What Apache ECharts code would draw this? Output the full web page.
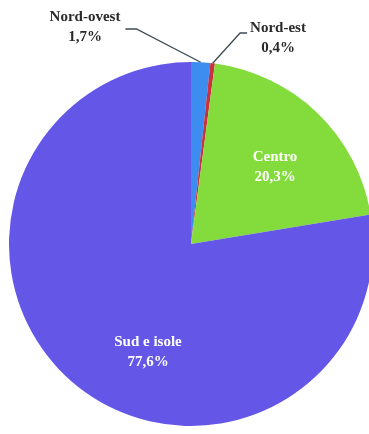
<!DOCTYPE html>
<html>
<head>
<meta charset="utf-8">
<script src="https://cdn.jsdelivr.net/npm/echarts@6/dist/echarts.min.js"></script>
<style>
  html, body { margin: 0; padding: 0; background: #ffffff; }
  #chart { width: 369px; height: 434px; }
</style>
</head>
<body>
<div id="chart"></div>
<script>
// Ripartizioni territoriali e quota percentuale
const categories = ['Nord-ovest', 'Nord-est', 'Centro', 'Sud e isole'];
const shares = [1.7, 0.4, 20.3, 77.6];
const sliceColors = ['#3d8cf0', '#c83240', '#84dc3c', '#6456e6'];

// Label placement (label centre) and whether the label sits outside with a leader line
const labelSpots = {
  'Nord-ovest': { x: 85, y: 27, outside: true, side: 'left' },
  'Nord-est': { x: 278, y: 38, outside: true, side: 'right' },
  'Centro': { x: 275, y: 167, outside: false },
  'Sud e isole': { x: 148, y: 352, outside: false }
};

const fmt = v => String(v).replace('.', ',') + '%';

const chart = echarts.init(document.getElementById('chart'), null, { renderer: 'canvas' });

const data = categories.map((name, i) => {
  const spot = labelSpots[name];
  return {
    name: name,
    value: shares[i],
    itemStyle: { color: sliceColors[i] },
    label: {
      show: true,
      position: spot.outside ? 'outside' : 'inside',
      color: spot.outside ? '#2a2a2a' : '#ffffff'
    },
    labelLine: { show: spot.outside }
  };
});

chart.setOption({
  animation: false,
  series: [{
    type: 'pie',
    center: [191, 244],
    radius: [0, 182],
    startAngle: 90,
    clockwise: true,
    avoidLabelOverlap: false,
    itemStyle: { borderWidth: 0 },
    label: {
      fontFamily: '"Liberation Serif", "DejaVu Serif", serif',
      fontSize: 15,
      fontWeight: 'bold',
      lineHeight: 20,
      align: 'center',
      formatter: p => p.name + '\n' + fmt(p.value)
    },
    labelLine: {
      length: 10,
      length2: 10,
      smooth: false,
      lineStyle: { color: '#3c4c54', width: 1.3 }
    },
    labelLayout: function (params) {
      const spot = labelSpots[categories[params.dataIndex]];
      if (!spot) return {};
      const out = { x: spot.x, y: spot.y, align: 'center', verticalAlign: 'middle' };
      if (spot.outside && params.labelLinePoints && params.labelRect) {
        const start = params.labelLinePoints[0];
        const halfW = params.labelRect.width / 2;
        if (spot.side === 'left') {
          const ex = spot.x + halfW + 5;
          out.labelLinePoints = [start, [ex + 11, spot.y + 2], [ex, spot.y + 2]];
        } else {
          const ex = spot.x - halfW - 3;
          out.labelLinePoints = [start, [ex - 7, spot.y - 5], [ex, spot.y - 5]];
        }
      }
      return out;
    },
    data: data
  }]
});
</script>
</body>
</html>
